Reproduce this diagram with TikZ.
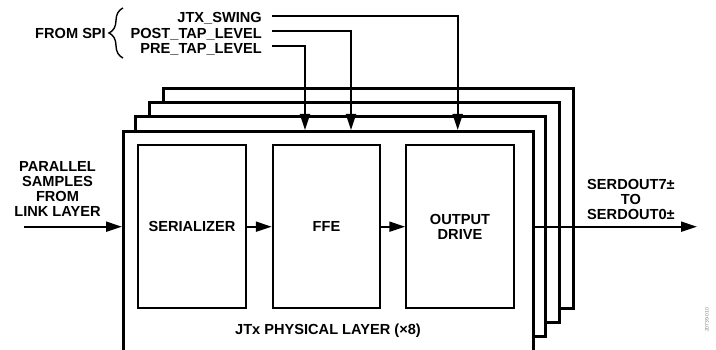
\documentclass[tikz,border=0pt]{standalone}
\usepackage{fontspec}
\setmainfont{Liberation Sans}
\usetikzlibrary{arrows.meta,positioning,decorations.pathreplacing}

\begin{document}
\begin{tikzpicture}[x=1pt, y=-1pt]
        \tikzset{sig/.style={-{Triangle[length=16pt, width=10pt]}, line width=2pt},
                 layer/.style={draw, fill=white, line width=2.8pt},
                 lbl/.style={font=\fontsize{14.6}{15.2}\selectfont\bfseries, align=center},
                 blk/.style={lbl, draw, line width=2pt, minimum width=107.5pt, minimum height=163.3pt},
                 spi/.style={lbl, anchor=east, inner xsep=10pt, inner ysep=0pt, text height=14pt, text depth=0pt}}
        \useasboundingbox (0,0) rectangle (716,350);

        % stacked copies of the physical layer
        \foreach \i in {3,2,1}
            \draw[layer] ({122+13.8*\i},{130-13.8*\i}) rectangle ({531.7+13.8*\i},{350-13.8*\i});
        \node (phy) [layer, anchor=north west, minimum width=409.7pt, minimum height=240pt, inner sep=0pt] at (122,130) {};
        \node (jtx) [lbl] at (328,331) {JTx PHYSICAL LAYER (×8)};

        \node (ser) [blk] at (192,226.7) {SERIALIZER};
        \node (ffe) [blk, right=25pt of ser] {FFE};
        \node (drv) [blk, right=24pt of ffe] {OUTPUT\\DRIVE};
        \draw[sig] (ser) -- (ffe);
        \draw[sig] (ffe) -- (drv);

        % in and out
        \node (par) [lbl] at (57.5,189) {PARALLEL\\SAMPLES\\FROM\\LINK LAYER};
        \coordinate (pin) at (24,226.7);
        \draw[sig] (pin) -- (pin -| phy.west);
        \node (serd) [lbl] at (631,199.5) {SERDOUT7±\\TO\\SERDOUT0±};
        \coordinate (pout) at (697,226.7);
        \draw[sig] (drv -| phy.east) -- (pout);

        % SPI controls
        \node (spi) [lbl, anchor=east, inner sep=0pt] at (106,33) {FROM SPI};
        \draw[line width=1.4pt, decorate, decoration={brace, amplitude=14pt}] (123,58) -- (123,8);
        \node (swing) [spi] at (272,16) {JTX\_SWING};
        \node (post) [spi] at (272,31.5) {POST\_TAP\_LEVEL};
        \node (pre) [spi] at (272,46.5) {PRE\_TAP\_LEVEL};
        \coordinate (swingIn) at (457.7,130);
        \coordinate (postIn) at (351,130);
        \coordinate (preIn) at (305,130);
        \draw[sig] (swing.east) -| (swingIn);
        \draw[sig] (post.east) -| (postIn);
        \draw[sig] (pre.east) -| (preIn);

        \node (fig) [rotate=90, text=gray, font=\fontsize{5}{5}\selectfont] at (707,320) {20739-010};
\end{tikzpicture}
\end{document}
